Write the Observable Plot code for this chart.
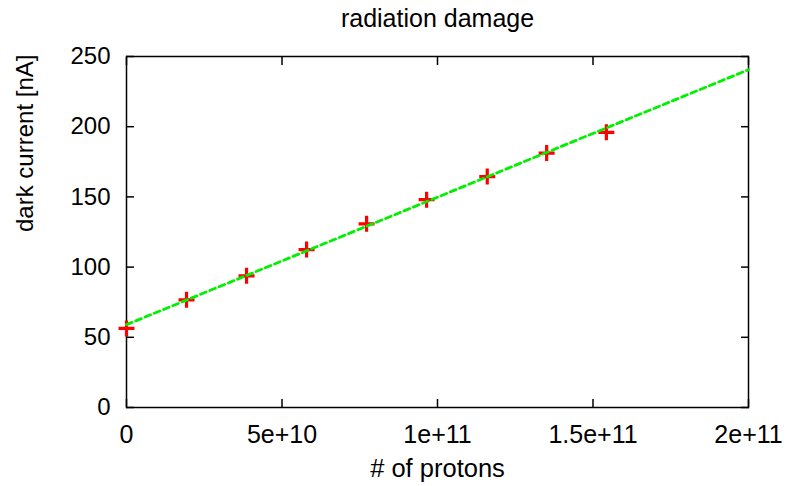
<!DOCTYPE html>
<html>
<head>
<meta charset="utf-8">
<script src="https://cdn.jsdelivr.net/npm/d3@7"></script>
<script src="https://cdn.jsdelivr.net/npm/@observablehq/plot@0.6"></script>
<style>
  html, body { margin: 0; padding: 0; background: #fff; }
</style>
</head>
<body>
<div id="chart"></div>
<script>
// Measured data points
const protons = [0, 1.93e10, 3.86e10, 5.79e10, 7.72e10, 9.65e10, 1.16e11, 1.351e11, 1.543e11];
const darkCurrent = [56.3, 76.7, 93.8, 112.5, 130.8, 148.0, 164.5, 181.2, 196.0];

// Linear fit endpoints
const fitX = [0, 2e11];
const fitY = [59.0, 240.6];

// Axis ticks and labels
const xTicks = [0, 5e10, 1e11, 1.5e11, 2e11];
const xTickLabels = ["0", "5e+10", "1e+11", "1.5e+11", "2e+11"];
const yTicks = [0, 50, 100, 150, 200, 250];
const yTickLabels = ["0", "50", "100", "150", "200", "250"];

const titleText = "radiation damage";
const xLabel = "# of protons";
const yLabel = "dark current [nA]";

const points = protons.map((x, i) => ({x, y: darkCurrent[i]}));
const fit = fitX.map((x, i) => ({x, y: fitY[i]}));

const plusSymbol = {
  draw(context, size) {
    const s = Math.sqrt(size / Math.PI);
    context.moveTo(-s, 0); context.lineTo(s, 0);
    context.moveTo(0, -s); context.lineTo(0, s);
  }
};

const font = "'Liberation Sans', Arial, Helvetica, sans-serif";
const fs = 24;

const chart = Plot.plot({
  width: 787,
  height: 486,
  marginLeft: 126,
  marginRight: 39,
  marginTop: 56,
  marginBottom: 79,
  style: {fontFamily: font, fontSize: fs + "px", background: "#fff", color: "#000"},
  x: {domain: [0, 2e11], axis: null},
  y: {domain: [0, 250], axis: null},
  marks: [
    // inward ticks on all four sides
    Plot.axisX(xTicks, {anchor: "bottom", tickSize: 8, dy: -8, tickFormat: () => "", label: null, strokeWidth: 1.5}),
    Plot.axisX(xTicks, {anchor: "top", tickSize: 8, dy: 8, tickFormat: () => "", label: null, strokeWidth: 1.5}),
    Plot.axisY(yTicks, {anchor: "left", tickSize: 8, dx: 8, tickFormat: () => "", label: null, strokeWidth: 1.5}),
    Plot.axisY(yTicks, {anchor: "right", tickSize: 8, dx: -8, tickFormat: () => "", label: null, strokeWidth: 1.5}),
    // tick labels
    Plot.axisX(xTicks, {anchor: "bottom", tickSize: 0, tickPadding: 18, tickFormat: (d, i) => xTickLabels[i], label: null, fontSize: 25}),
    Plot.axisY(yTicks, {anchor: "left", tickSize: 0, tickPadding: 16, tickFormat: (d, i) => yTickLabels[i], label: null, fontSize: fs}),
    Plot.frame({stroke: "#000", strokeWidth: 1.5}),
    // data points
    Plot.dot(points, {x: "x", y: "y", symbol: plusSymbol, r: 8, stroke: "#ff0000", fill: "none", strokeWidth: 3.2}),
    // fit line
    Plot.line(fit, {x: "x", y: "y", stroke: "#00f000", strokeWidth: 2.8, strokeDasharray: "6,4"}),
    // labels
    Plot.text([titleText], {frameAnchor: "top", dy: -38, lineAnchor: "middle", fontSize: 25, fill: "#000"}),
    Plot.text([xLabel], {frameAnchor: "bottom", dy: 61, lineAnchor: "middle", fontSize: 25.5, fill: "#000"}),
    Plot.text([yLabel], {frameAnchor: "left", dx: -101, rotate: -90, lineAnchor: "middle", fontSize: fs, fill: "#000"})
  ]
});
document.getElementById("chart").appendChild(chart);
</script>
</body>
</html>
